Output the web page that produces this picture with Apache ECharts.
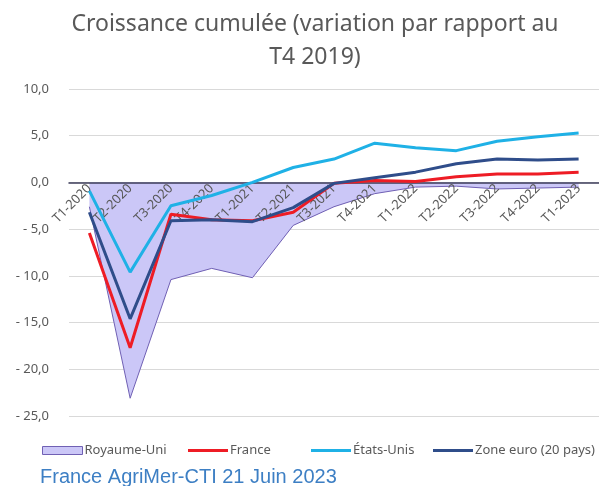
<!DOCTYPE html>
<html>
<head>
<meta charset="utf-8">
<script src="https://cdn.jsdelivr.net/npm/echarts@6/dist/echarts.min.js"></script>
<style>
html,body{margin:0;padding:0;background:#fff;}
#chart{width:599px;height:486px;}
</style>
</head>
<body>
<div id="chart"></div>
<script>
var quarters=['T1-2020','T2-2020','T3-2020','T4-2020','T1-2021','T2-2021','T3-2021',
    'T4-2021','T1-2022','T2-2022','T3-2022','T4-2022','T1-2023'];
var royaumeUni=[-2.6,-23.1,-10.4,-9.2,-10.2,-4.6,-2.6,-1.2,-0.5,-0.4,-0.7,-0.6,-0.5];
var france=[-5.4,-17.7,-3.4,-4.0,-4.1,-3.2,-0.1,0.2,0.1,0.6,0.9,0.9,1.1];
var etatsUnis=[-0.9,-9.6,-2.5,-1.4,0.0,1.6,2.5,4.2,3.7,3.4,4.4,4.9,5.3];
var zoneEuro=[-3.2,-14.6,-4.1,-4.0,-4.2,-2.7,-0.1,0.5,1.1,2.0,2.5,2.4,2.5];

var GREY='#595959';
var FONT='"Noto Sans", sans-serif';
var C_UK='#cbc7f7', C_UK_LINE='#7060b4';
var C_FR='#ee1c25', C_US='#1fb1e6', C_EU='#2f4d8a';

var myChart=echarts.init(document.getElementById('chart'));

function fmt(v) {
    var s=Math.abs(v).toFixed(1).replace('.',',');
    return v<0 ? '- '+s : s;
}

function legendAt(name,left,h,style) {
    return {
        left:left, top:439,
        itemWidth:40, itemHeight:h,
        selectedMode:false,
        textStyle:{color:GREY,fontSize:13,fontFamily:FONT,padding:[0,0,0,-3]},
        data:[{name:name,icon:'rect',itemStyle:style}]
    };
}

// x axis (and its labels) drawn on the zero line, like the original
var gridTop=89, gridBottom=70, yMin=-25, yMax=10;
var plotH=486-gridTop-gridBottom;
var zeroOffset=-plotH*(0-yMin)/(yMax-yMin);

var option={
    animation:false,
    backgroundColor:'#fff',
    title:{
        text:'Croissance cumulée (variation par rapport au\nT4 2019)',
        left:310, top:3, textAlign:'center',
        textStyle:{color:GREY,fontSize:23,fontWeight:'normal',fontFamily:FONT,lineHeight:33}
    },
    graphic:[{
        type:'text', left:40, top:467,
        style:{text:'France AgriMer-CTI 21 Juin 2023',fill:'#3d7fc4',
            font:'20px "Liberation Sans", Arial, sans-serif'}
    }],
    legend:[
        legendAt('Royaume-Uni',37,8,{color:C_UK,borderColor:C_UK_LINE,borderWidth:1}),
        legendAt('France',183,3,{color:C_FR}),
        legendAt('États-Unis',306,3,{color:C_US}),
        legendAt('Zone euro (20 pays)',428,3,{color:C_EU})
    ],
    grid:{left:69,right:-11,top:gridTop,bottom:gridBottom},
    xAxis:{
        type:'category',
        data:quarters,
        boundaryGap:true,
        offset:zeroOffset,
        z:2,   // above the UK area, below the lines
        axisLine:{onZero:false,lineStyle:{color:'#3c3c5a',width:1.5}},
        axisTick:{show:false},
        axisLabel:{rotate:45,interval:0,margin:4,color:GREY,fontSize:13,fontFamily:FONT}
    },
    yAxis:{
        type:'value',
        min:yMin, max:yMax, interval:5,
        axisLine:{show:false},
        axisTick:{show:false},
        splitLine:{lineStyle:{color:'#d9d9d9',width:1}},
        axisLabel:{margin:20,color:GREY,fontSize:13,fontFamily:FONT,formatter:fmt}
    },
    series:[{
        name:'Royaume-Uni',
        type:'line',
        data:royaumeUni,
        symbol:'none',
        z:1,
        lineStyle:{color:C_UK_LINE,width:1},
        itemStyle:{color:C_UK_LINE},
        areaStyle:{color:C_UK,opacity:1}
    },{
        name:'France',
        type:'line',
        data:france,
        symbol:'none',
        z:3,
        lineStyle:{color:C_FR,width:3},
        itemStyle:{color:C_FR}
    },{
        name:'États-Unis',
        type:'line',
        data:etatsUnis,
        symbol:'none',
        z:3,
        lineStyle:{color:C_US,width:3},
        itemStyle:{color:C_US}
    },{
        name:'Zone euro (20 pays)',
        type:'line',
        data:zoneEuro,
        symbol:'none',
        z:4,
        lineStyle:{color:C_EU,width:3},
        itemStyle:{color:C_EU}
    }]
};

myChart.setOption(option);
</script>
</body>
</html>
